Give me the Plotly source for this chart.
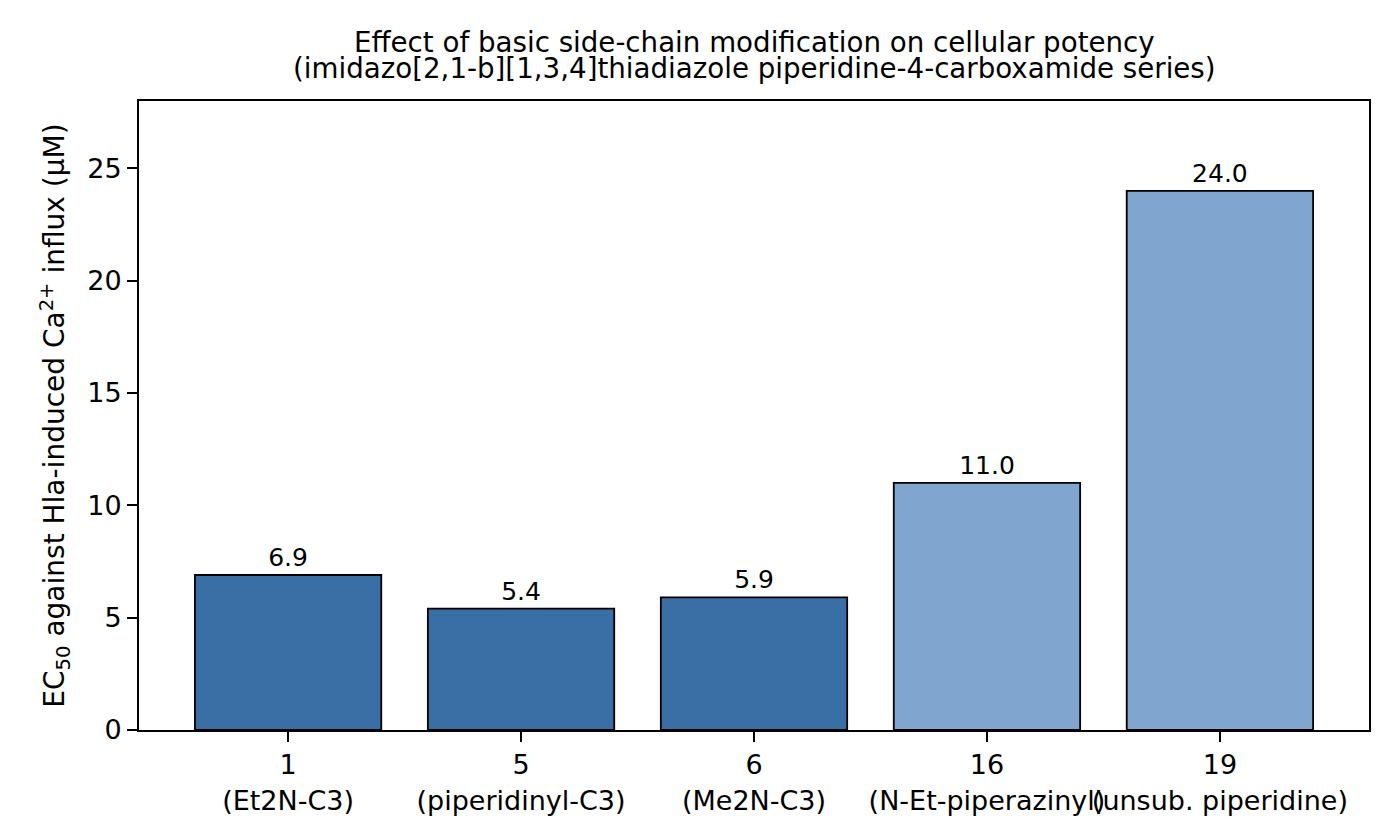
import plotly.graph_objects as go

compounds = ["1", "5", "6", "16", "19"]
substituents = ["(Et2N-C3)", "(piperidinyl-C3)", "(Me2N-C3)", "(N-Et-piperazinyl)", "(unsub. piperidine)"]
ec50 = [6.9, 5.4, 5.9, 11.0, 24.0]
colors = ["#3a6fa5", "#3a6fa5", "#3a6fa5", "#80a6cf", "#80a6cf"]
yticks = [0, 5, 10, 15, 20, 25]
title_lines = ["Effect of basic side-chain modification on cellular potency",
               "(imidazo[2,1-b][1,3,4]thiadiazole piperidine-4-carboxamide series)"]

xpos = list(range(len(compounds)))
ticktext = [f"{c}<br>{s}" for c, s in zip(compounds, substituents)]

font = "DejaVu Sans"

fig = go.Figure()
fig.add_trace(go.Bar(
    x=xpos, y=ec50, width=0.8,
    marker=dict(color=colors, line=dict(color="black", width=1.8)),
    text=[f"{v:.1f}" for v in ec50], textposition="outside",
    textfont=dict(family=font, size=25, color="black"),
    cliponaxis=False,
))

# page body has an 8px margin; figure sized to fit the window
fig.update_layout(
    width=1392, height=832,
    margin=dict(l=131, r=31, t=93, b=110, autoexpand=False),
    paper_bgcolor="white", plot_bgcolor="white",
    font=dict(family=font, size=27, color="black"),
    showlegend=False,
    xaxis=dict(
        range=[-0.64, 4.64], tickvals=xpos, ticktext=ticktext,
        tickangle=0, automargin=False,
        showline=True, linecolor="black", linewidth=2, mirror=True,
        ticks="outside", ticklen=10, tickwidth=2, tickcolor="black",
        showgrid=False, zeroline=False,
        tickfont=dict(family=font, size=27),
    ),
    yaxis=dict(
        range=[0, 28], tickvals=yticks, automargin=False,
        showline=True, linecolor="black", linewidth=2, mirror=True,
        ticks="outside", ticklen=10, tickwidth=2, tickcolor="black",
        showgrid=False, zeroline=False,
        tickfont=dict(family=font, size=27),
        title=dict(text="EC<sub>50</sub> against Hla-induced Ca<sup>2+</sup> influx (μM)",
                   font=dict(family=font, size=28), standoff=14),
    ),
)

for txt, yp in zip(title_lines, [1.0935, 1.052]):
    fig.add_annotation(text=txt, xref="paper", yref="paper", x=0.5, y=yp,
                       xanchor="center", yanchor="middle", showarrow=False,
                       font=dict(family=font, size=27.7, color="black"))

fig.write_html("out.html")
